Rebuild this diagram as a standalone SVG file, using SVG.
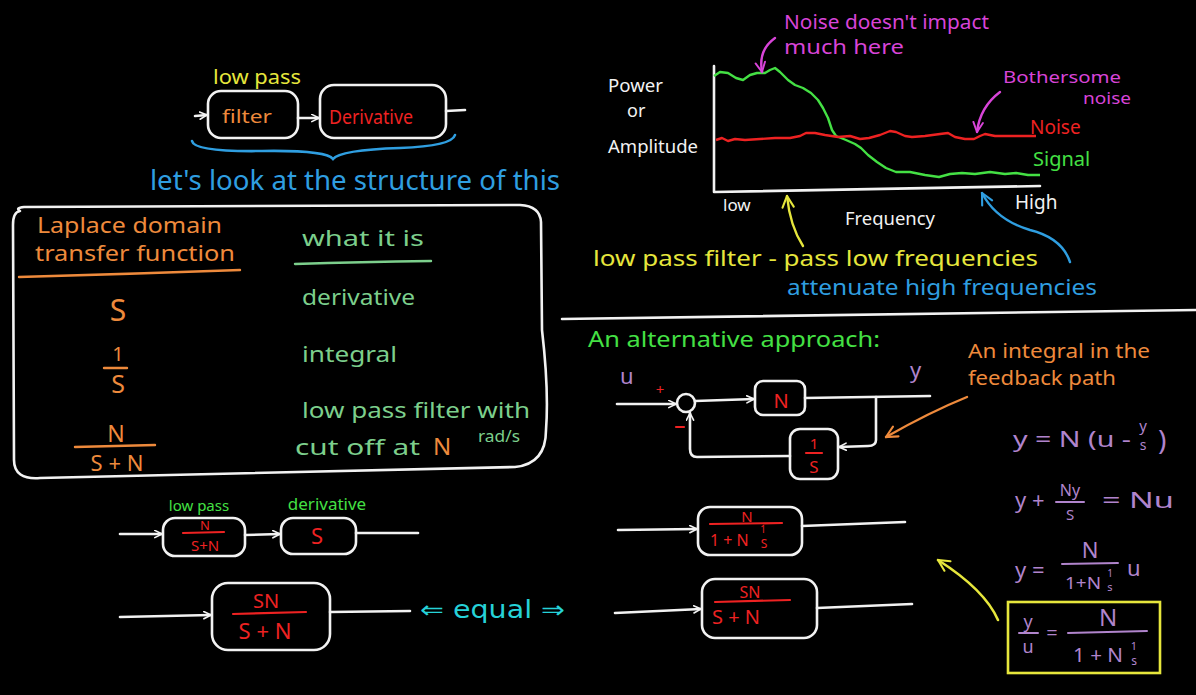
<svg xmlns="http://www.w3.org/2000/svg" width="1196" height="695" viewBox="0 0 1196 695">
<style>
.bg{fill:#000}
.w{fill:none;stroke:#f2f2f2;stroke-width:2.6;stroke-linecap:round;stroke-linejoin:round}
.box{fill:#000;stroke:#f2f2f2;stroke-width:2.6}
.t{font-family:"Noto Sans","Liberation Sans",sans-serif}
.m{text-anchor:middle}
.white{fill:#f2f2f2}
.yel{fill:#e6e63c}
.ora{fill:#ee8a3c}
.red{fill:#ee2222}
.grn{fill:#7ccf8c}
.lg{fill:#44e044}
.blu{fill:#2f9ee0}
.mag{fill:#d844d8}
.pur{fill:#b084cc}
.cya{fill:#26d2d8}
.ls-ora{stroke:#ee8a3c;stroke-width:2.4;fill:none;stroke-linecap:round}
.ls-grn{stroke:#7ccf8c;stroke-width:2.4;fill:none;stroke-linecap:round}
.ls-red{stroke:#ee2222;stroke-width:2.2;fill:none;stroke-linecap:round}
.ls-pur{stroke:#b084cc;stroke-width:2;fill:none;stroke-linecap:round}
</style>
<defs>
<marker id="aw" viewBox="0 0 10 10" refX="9" refY="5" markerWidth="9" markerHeight="9" markerUnits="userSpaceOnUse" orient="auto"><path d="M1,1 L9,5 L1,9" fill="none" stroke="#f2f2f2" stroke-width="1.8" stroke-linecap="round"/></marker>
<marker id="am" viewBox="0 0 10 10" refX="9" refY="5" markerWidth="12" markerHeight="12" markerUnits="userSpaceOnUse" orient="auto"><path d="M1,1 L9,5 L1,9" fill="none" stroke="#d844d8" stroke-width="1.6" stroke-linecap="round"/></marker>
<marker id="ay" viewBox="0 0 10 10" refX="9" refY="5" markerWidth="14" markerHeight="14" markerUnits="userSpaceOnUse" orient="auto"><path d="M1,1 L9,5 L1,9" fill="none" stroke="#e6e63c" stroke-width="1.5" stroke-linecap="round"/></marker>
<marker id="ab" viewBox="0 0 10 10" refX="9" refY="5" markerWidth="14" markerHeight="14" markerUnits="userSpaceOnUse" orient="auto"><path d="M1,1 L9,5 L1,9" fill="none" stroke="#2f9ee0" stroke-width="1.5" stroke-linecap="round"/></marker>
<marker id="ao" viewBox="0 0 10 10" refX="9" refY="5" markerWidth="14" markerHeight="14" markerUnits="userSpaceOnUse" orient="auto"><path d="M1,1 L9,5 L1,9" fill="none" stroke="#ee8a3c" stroke-width="1.5" stroke-linecap="round"/></marker>
</defs>
<rect class="bg" x="0" y="0" width="1196" height="695"/>

<!-- top-left series diagram -->
<g id="top-series">
  <text class="t yel" x="213" y="84" font-size="19" textLength="88" lengthAdjust="spacingAndGlyphs">low pass</text>
  <rect id="filter-box" class="box" x="208" y="91" width="90" height="47" rx="13"/>
  <text class="t ora" x="222" y="123" font-size="18" textLength="50" lengthAdjust="spacingAndGlyphs">filter</text>
  <rect id="derivative-box" class="box" x="320" y="85" width="126" height="53" rx="14"/>
  <text class="t red" x="329" y="124" font-size="19" textLength="84" lengthAdjust="spacingAndGlyphs">Derivative</text>
  <path d="M192,141 Q194,152 262,151 Q326,150 333,159 Q340,150 400,148 Q452,146 455,135" fill="none" stroke="#2f9ee0" stroke-width="2.6" stroke-linecap="round"/>
  <text class="t blu" x="150" y="190" font-size="27" textLength="410" lengthAdjust="spacingAndGlyphs">let's look at the structure of this</text>
</g>

<!-- table -->
<g id="table">
  <path class="w" d="M20,211 Q15,208 24,207 L520,205 Q540,206 541,222 L542,330 Q549,390 546,430 Q546,464 515,467 L40,478 Q14,480 14,460 L13,225 Q13,212 20,211 Z"/>
  <text class="t ora" x="37" y="233" font-size="22" textLength="185" lengthAdjust="spacingAndGlyphs">Laplace domain</text>
  <text class="t ora" x="35" y="261" font-size="22" textLength="200" lengthAdjust="spacingAndGlyphs">transfer function</text>
  <path class="ls-ora" d="M19,277 Q130,274 240,270"/>
  <text class="t grn" x="302" y="246" font-size="22" textLength="122" lengthAdjust="spacingAndGlyphs">what it is</text>
  <path class="ls-grn" d="M295,264 Q360,262 431,261"/>
  <text class="t ora m" x="118" y="321" font-size="30">S</text>
  <text class="t grn" x="302" y="305" font-size="22" textLength="113" lengthAdjust="spacingAndGlyphs">derivative</text>
  <text class="t ora m" x="118" y="361" font-size="20">1</text>
  <path class="ls-ora" d="M104,368 L127,368"/>
  <text class="t ora m" x="118" y="393" font-size="25">S</text>
  <text class="t grn" x="302" y="362" font-size="22" textLength="95" lengthAdjust="spacingAndGlyphs">integral</text>
  <text class="t grn" x="302" y="418" font-size="22" textLength="228" lengthAdjust="spacingAndGlyphs">low pass filter with</text>
  <text class="t grn" x="295" y="455" font-size="22" textLength="125" lengthAdjust="spacingAndGlyphs">cut off at</text>
  <text class="t ora" x="433" y="455" font-size="24">N</text>
  <text class="t grn" x="478" y="442" font-size="16" textLength="42" lengthAdjust="spacingAndGlyphs">rad/s</text>
  <text class="t ora m" x="116" y="442" font-size="23">N</text>
  <path class="ls-ora" d="M75,447 L155,445"/>
  <text class="t ora m" x="117" y="471" font-size="22">S + N</text>
</g>

<!-- bottom-left diagrams -->
<g id="lp-block">
  <text class="t lg m" x="199" y="511" font-size="15">low pass</text>
  <rect class="box" x="163" y="518" width="82" height="38" rx="12"/>
  <text class="t red m" x="205" y="530" font-size="13">N</text>
  <path class="ls-red" d="M183,533 L224,532"/>
  <text class="t red m" x="205" y="551" font-size="15">S+N</text>
</g>
<g id="s-block">
  <text class="t lg m" x="327" y="510" font-size="17">derivative</text>
  <rect class="box" x="281" y="518" width="75" height="36" rx="12"/>
  <text class="t red m" x="317" y="544" font-size="22">S</text>
</g>
<g id="sn-block">
  <rect class="box" x="212" y="583" width="118" height="67" rx="16"/>
  <text class="t red m" x="266" y="608" font-size="20">SN</text>
  <path class="ls-red" d="M233,614 L306,612"/>
  <text class="t red m" x="265" y="639" font-size="22">S + N</text>
</g>
<text class="t cya" x="420" y="618" font-size="24" style="font-family:'DejaVu Sans',sans-serif" textLength="145" lengthAdjust="spacingAndGlyphs">⇐ equal ⇒</text>

<!-- chart -->
<g id="chart">
  <path class="w" d="M714,66 L714,192 L1040,186"/>
  <polyline fill="none" stroke="#44e044" stroke-width="2.4" stroke-linejoin="round" points="714,76 720,72 728,73 736,78 743,80 750,75 757,73 765,73 770,70 775,68 780,72 788,80 795,85 803,88 811,93 818,100 823,108 828,118 832,130 836,136 846,140 855,144 861,148 868,155 877,162 886,168 896,172 910,172 925,175 939,177 950,174 962,173 975,174 990,172 1005,174 1016,173 1028,175 1040,175"/>
  <polyline fill="none" stroke="#ee2222" stroke-width="2.4" stroke-linejoin="round" points="716,140 722,138 728,141 735,139 745,140 760,139 775,138 790,138 800,136 806,133 815,133 825,135 838,137 850,136 860,139 869,138 880,135 890,131 896,132 905,136 912,137 925,136 940,134 948,133 955,137 965,139 974,139 980,136 985,134 995,136 1010,136 1036,136"/>
  <text class="t white" x="608" y="92" font-size="18" textLength="55" lengthAdjust="spacingAndGlyphs">Power</text>
  <text class="t white" x="627" y="117" font-size="18">or</text>
  <text class="t white" x="608" y="153" font-size="18" textLength="90" lengthAdjust="spacingAndGlyphs">Amplitude</text>
  <text class="t white" x="723" y="211" font-size="17">low</text>
  <text class="t white" x="845" y="225" font-size="18" textLength="90" lengthAdjust="spacingAndGlyphs">Frequency</text>
  <text class="t white" x="1015" y="209" font-size="19">High</text>
  <text class="t red" x="1030" y="134" font-size="19">Noise</text>
  <text class="t lg" x="1033" y="166" font-size="20">Signal</text>
  <text class="t mag" x="784" y="29" font-size="20" textLength="205" lengthAdjust="spacingAndGlyphs">Noise doesn't impact</text>
  <text class="t mag" x="784" y="54" font-size="20" textLength="120" lengthAdjust="spacingAndGlyphs">much here</text>
  <text class="t mag" x="1003" y="83" font-size="17" textLength="118" lengthAdjust="spacingAndGlyphs">Bothersome</text>
  <text class="t mag" x="1083" y="104" font-size="16" textLength="48" lengthAdjust="spacingAndGlyphs">noise</text>
  <text class="t yel" x="593" y="266" font-size="21" textLength="445" lengthAdjust="spacingAndGlyphs">low pass filter - pass low frequencies</text>
  <text class="t blu" x="787" y="295" font-size="21" textLength="310" lengthAdjust="spacingAndGlyphs">attenuate high frequencies</text>
</g>

<!-- feedback diagram -->
<g id="feedback">
  <text class="t lg" x="588" y="347" font-size="22" textLength="292" lengthAdjust="spacingAndGlyphs">An alternative approach:</text>
  <text class="t pur" x="620" y="384" font-size="22">u</text>
  <text class="t pur" x="910" y="378" font-size="22">y</text>
  <text class="t red m" x="660" y="395" font-size="15">+</text>
  <path class="ls-red" d="M676,427 L684,427"/>
  <circle id="sum" class="w" cx="686" cy="403" r="9"/>
  <rect id="n-box" class="box" x="755" y="381" width="50" height="34" rx="8"/>
  <text class="t red m" x="781" y="408" font-size="20">N</text>
  <rect id="int-box" class="box" x="790" y="429" width="48" height="50" rx="10"/>
  <text class="t red m" x="814" y="449" font-size="15">1</text>
  <path class="ls-red" d="M806,453 L822,453"/>
  <text class="t red m" x="814" y="473" font-size="17">S</text>
  <text class="t ora" x="968" y="358" font-size="20" textLength="182" lengthAdjust="spacingAndGlyphs">An integral in the</text>
  <text class="t ora" x="968" y="385" font-size="20" textLength="148" lengthAdjust="spacingAndGlyphs">feedback path</text>
</g>

<!-- equations -->
<g id="equations">
  <text class="t pur" x="1013" y="447" font-size="22" textLength="118" lengthAdjust="spacingAndGlyphs">y = N (u -</text>
  <text class="t pur m" x="1143" y="431" font-size="15">y</text>
  <text class="t pur m" x="1143" y="450" font-size="14">s</text>
  <text class="t pur" x="1158" y="450" font-size="28">)</text>
  <text class="t pur" x="1015" y="508" font-size="22">y +</text>
  <text class="t pur m" x="1070" y="496" font-size="16">Ny</text>
  <path class="ls-pur" d="M1056,502 L1084,502"/>
  <text class="t pur m" x="1070" y="520" font-size="15">S</text>
  <text class="t pur" x="1102" y="508" font-size="22" textLength="72" lengthAdjust="spacingAndGlyphs">= Nu</text>
  <text class="t pur" x="1015" y="578" font-size="22">y =</text>
  <text class="t pur m" x="1090" y="558" font-size="22">N</text>
  <path class="ls-pur" d="M1062,564 L1118,563"/>
  <text class="t pur" x="1065" y="589" font-size="17" textLength="36" lengthAdjust="spacingAndGlyphs">1+N</text>
  <text class="t pur m" x="1110" y="577" font-size="10">1</text>
  <text class="t pur m" x="1110" y="591" font-size="11">s</text>
  <text class="t pur" x="1127" y="576" font-size="22">u</text>
  <rect id="result-box" x="1008" y="602" width="152" height="71" fill="none" stroke="#e6e63c" stroke-width="2.6"/>
  <text class="t pur m" x="1028" y="628" font-size="18">y</text>
  <path class="ls-pur" d="M1019,633 L1038,633"/>
  <text class="t pur m" x="1028" y="653" font-size="18">u</text>
  <text class="t pur m" x="1052" y="640" font-size="20">=</text>
  <text class="t pur m" x="1108" y="626" font-size="24">N</text>
  <path class="ls-pur" d="M1068,633 L1147,631"/>
  <text class="t pur" x="1073" y="662" font-size="20" textLength="50" lengthAdjust="spacingAndGlyphs">1 + N</text>
  <text class="t pur m" x="1134" y="650" font-size="11">1</text>
  <text class="t pur m" x="1134" y="665" font-size="12">s</text>
</g>

<!-- bottom-right blocks -->
<g id="n-over-block">
  <rect class="box" x="698" y="507" width="104" height="48" rx="12"/>
  <text class="t red m" x="747" y="522" font-size="15">N</text>
  <path class="ls-red" d="M710,524 L782,523"/>
  <text class="t red" x="710" y="546" font-size="16">1 + N</text>
  <text class="t red m" x="763" y="533" font-size="10">1</text>
  <text class="t red m" x="764" y="548" font-size="12">S</text>
</g>
<g id="sn-block-2">
  <rect class="box" x="702" y="579" width="115" height="59" rx="13"/>
  <text class="t red m" x="750" y="598" font-size="16">SN</text>
  <path class="ls-red" d="M715,602 L790,600"/>
  <text class="t red" x="712" y="624" font-size="20">S + N</text>
</g>

<line x1="562" y1="319" x2="1196" y2="310" class="w" stroke-width="2"/>

<!-- connectors -->
<g id="connectors">
  <path class="w" d="M195,116 L207,115" marker-end="url(#aw)"/>
  <path class="w" d="M298,118 L319,118" marker-end="url(#aw)"/>
  <path class="w" d="M446,111 L465,110"/>
  <path class="w" d="M120,534 L162,534" marker-end="url(#aw)"/>
  <path class="w" d="M245,535 L280,534" marker-end="url(#aw)"/>
  <path class="w" d="M356,533 L418,533"/>
  <path class="w" d="M120,617 L211,615" marker-end="url(#aw)"/>
  <path class="w" d="M330,612 L410,611"/>
  <path class="w" d="M617,404 L676,404" marker-end="url(#aw)"/>
  <path class="w" d="M695,401 L754,399" marker-end="url(#aw)"/>
  <path class="w" d="M805,398 L930,396"/>
  <path class="w" d="M876,397 L876,440 Q876,446 868,446 L839,447" marker-end="url(#aw)"/>
  <path class="w" d="M790,456 L697,457 Q690,457 690,449 L690,413" marker-end="url(#aw)"/>
  <path class="w" d="M618,530 L697,529" marker-end="url(#aw)"/>
  <path class="w" d="M802,526 L905,522"/>
  <path class="w" d="M615,613 L701,609" marker-end="url(#aw)"/>
  <path class="w" d="M817,608 L912,604"/>
  <path d="M775,38 Q758,50 762,72" fill="none" stroke="#d844d8" stroke-width="2.4" stroke-linecap="round" marker-end="url(#am)"/>
  <path d="M1000,92 Q980,107 977,132" fill="none" stroke="#d844d8" stroke-width="2.4" stroke-linecap="round" marker-end="url(#am)"/>
  <path d="M803,246 Q790,226 787,196" fill="none" stroke="#e6e63c" stroke-width="2.4" stroke-linecap="round" marker-end="url(#ay)"/>
  <path d="M1070,262 Q1062,238 1030,230 Q996,220 982,193" fill="none" stroke="#2f9ee0" stroke-width="2.4" stroke-linecap="round" marker-end="url(#ab)"/>
  <path d="M967,397 Q930,412 886,437" fill="none" stroke="#ee8a3c" stroke-width="2.4" stroke-linecap="round" marker-end="url(#ao)"/>
  <path d="M998,620 Q985,590 938,560" fill="none" stroke="#e6e63c" stroke-width="2.6" stroke-linecap="round" marker-end="url(#ay)"/>
</g>
</svg>
